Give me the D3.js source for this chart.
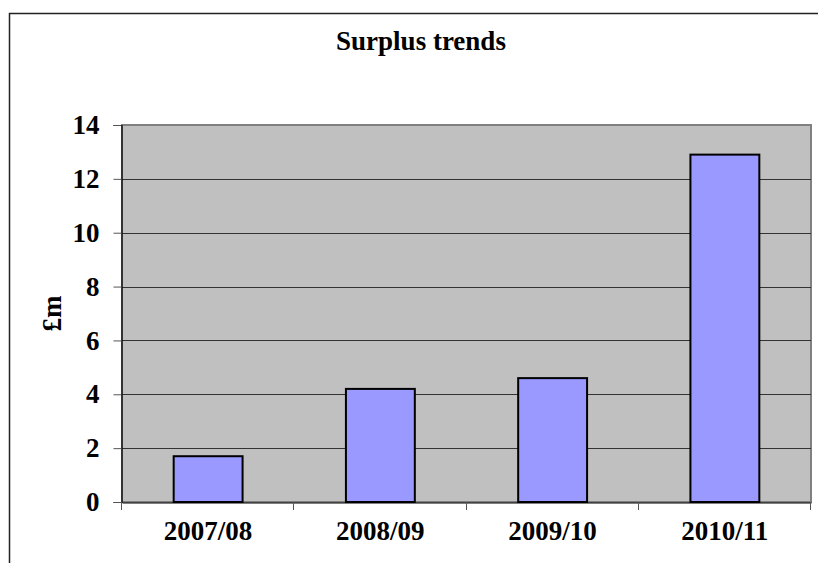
<!DOCTYPE html>
<html>
<head>
<meta charset="utf-8">
<script src="https://cdn.jsdelivr.net/npm/d3@7"></script>
<style>
  html, body { margin: 0; padding: 0; background: #ffffff; overflow: hidden; }
  svg { display: block; }
  text { font-family: "Liberation Serif", "Times New Roman", serif; font-weight: bold; fill: #000; }
</style>
</head>
<body>
<svg id="chart" width="818" height="563"></svg>
<script>
// Annual surplus, £m
const years = ["2007/08", "2008/09", "2009/10", "2010/11"];
const surplus = [1.7, 4.2, 4.6, 12.9];
const yTicks = [0, 2, 4, 6, 8, 10, 12, 14];
const chartTitle = "Surplus trends";
const yTitle = "£m";

const svg = d3.select("#chart");
const plot = { left: 122, right: 811, top: 125, bottom: 502 };
const fontSize = 27;

// Outer chart frame: only its top and left edges fall inside the page
svg.append("path")
  .attr("d", "M9.5,563 L9.5,13.5 L818,13.5")
  .attr("fill", "none")
  .attr("stroke", "#222").attr("stroke-width", 1.5);

const x = d3.scaleBand().domain(years).range([plot.left, plot.right]).paddingInner(0).paddingOuter(0);
const y = d3.scaleLinear().domain([0, 14]).range([plot.bottom, plot.top]);

// Plot area background
svg.append("rect")
  .attr("x", plot.left).attr("y", plot.top)
  .attr("width", plot.right - plot.left).attr("height", plot.bottom - plot.top)
  .attr("fill", "#c0c0c0")
  .attr("stroke", "#808080").attr("stroke-width", 2);

// Horizontal gridlines
svg.append("g")
  .selectAll("line")
  .data(yTicks.filter(d => d > 0 && d < 14))
  .join("line")
  .attr("x1", plot.left).attr("x2", plot.right)
  .attr("y1", d => Math.round(y(d)) + 0.5).attr("y2", d => Math.round(y(d)) + 0.5)
  .attr("stroke", "#333").attr("stroke-width", 1);

// Bars
const barW = x.bandwidth() * 0.4;
svg.append("g")
  .selectAll("rect")
  .data(years.map((k, i) => ({ k, v: surplus[i] })))
  .join("rect")
  .attr("x", d => x(d.k) + (x.bandwidth() - barW) / 2)
  .attr("y", d => y(d.v))
  .attr("width", barW)
  .attr("height", d => y(0) - y(d.v))
  .attr("fill", "#9999ff")
  .attr("stroke", "#000").attr("stroke-width", 2);

// Y axis
const yAxis = svg.append("g")
  .attr("transform", `translate(${plot.left - 0.5},0)`)
  .call(d3.axisLeft(y).tickValues(yTicks).tickSize(8).tickPadding(14).tickFormat(d3.format("d")));
yAxis.select(".domain").attr("stroke", "#000").attr("stroke-width", 1.2);
yAxis.selectAll(".tick line").attr("stroke", "#555");
yAxis.selectAll(".tick text")
  .attr("font-size", fontSize)
  .attr("font-family", "Liberation Serif, Times New Roman, serif")
  .attr("font-weight", "bold")
  .attr("fill", "#000");

// X axis
const xAxis = svg.append("g")
  .attr("transform", `translate(0,${plot.bottom + 0.5})`)
  .call(d3.axisBottom(x).tickSize(0).tickPadding(0).tickFormat(""));
xAxis.select(".domain").attr("stroke", "#000").attr("stroke-width", 1.2);

// Category boundary ticks
const bounds = years.map(k => x(k)).concat([plot.right]);
svg.append("g")
  .selectAll("line")
  .data(bounds)
  .join("line")
  .attr("x1", d => Math.round(d) - 0.5).attr("x2", d => Math.round(d) - 0.5)
  .attr("y1", plot.bottom).attr("y2", plot.bottom + 8)
  .attr("stroke", "#555").attr("stroke-width", 1);

// Category labels
svg.append("g")
  .selectAll("text")
  .data(years)
  .join("text")
  .attr("x", d => x(d) + x.bandwidth() / 2)
  .attr("y", 540)
  .attr("text-anchor", "middle")
  .attr("font-size", fontSize)
  .text(d => d);

// Title
svg.append("text")
  .attr("x", 421).attr("y", 50)
  .attr("text-anchor", "middle")
  .attr("font-size", fontSize)
  .text(chartTitle);

// Y axis title
svg.append("text")
  .attr("transform", `translate(61,${(plot.top + plot.bottom) / 2}) rotate(-90)`)
  .attr("text-anchor", "middle")
  .attr("font-size", fontSize)
  .text(yTitle);
</script>
</body>
</html>
